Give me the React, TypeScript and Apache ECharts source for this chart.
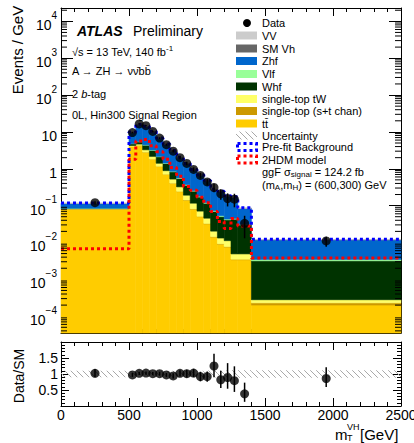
import React, { useEffect, useRef } from 'react';
import * as echarts from 'echarts';

const FONT = "'Liberation Sans', Arial, Helvetica, sans-serif";

// Bin edges of m_T^VH (GeV)
const binEdges = [0, 500, 550, 600, 650, 700, 750, 800, 850, 900, 950, 1000, 1050, 1100, 1150, 1200, 1250, 1300, 1400, 2500];

// Background components, Events / GeV (stack order bottom -> top)
const ttbar = [0.080, 4.0, 4.3, 2.8, 1.8, 1.15, 0.70, 0.40, 0.24, 0.14, 0.080, 0.050, 0.032, 0.014, 0.009, 0.0075, 0.0034, 0.0034, 0.0002];
const stopST = [0.0005, 0.02, 0.03, 0.02, 0.015, 0.01, 0.008, 0.005, 0.003, 0.002, 0.0015, 0.001, 0.0006, 0.0003, 0.0002, 0.0002, 0.0001, 0.0001, 0.00003];
const stopWt = [0.002, 0.25, 0.35, 0.45, 0.35, 0.25, 0.18, 0.12, 0.08, 0.05, 0.035, 0.02, 0.013, 0.006, 0.004, 0.0035, 0.0014, 0.0014, 0.00005];
const whf = [0.0015, 0.5, 0.7, 1.1, 1.0, 0.7, 0.5, 0.3, 0.22, 0.165, 0.13, 0.10, 0.07, 0.049, 0.037, 0.030, 0.038, 0.025, 0.0029];
const vlf = [0.0005, 0.05, 0.08, 0.08, 0.07, 0.05, 0.04, 0.03, 0.02, 0.015, 0.01, 0.008, 0.005, 0.003, 0.003, 0.002, 0.002, 0.001, 0.0003];
const zhf = [0.030, 4.85, 9.9, 9.4, 6.8, 4.5, 3.1, 2.2, 1.4, 0.99, 0.67, 0.49, 0.345, 0.195, 0.185, 0.135, 0.12, 0.053, 0.0084];
const smvh = [0.0003, 0.06, 0.09, 0.08, 0.06, 0.04, 0.03, 0.02, 0.012, 0.009, 0.006, 0.0045, 0.003, 0.002, 0.0015, 0.0012, 0.0012, 0.0006, 0.00006];
const vv = [0.0002, 0.04, 0.06, 0.06, 0.04, 0.03, 0.02, 0.01, 0.008, 0.006, 0.004, 0.0025, 0.002, 0.001, 0.0005, 0.0008, 0.0008, 0.0004, 0.00004];

// Overlays
const prefitBkg = [0.118, 10.0, 15.8, 14.2, 10.4, 6.8, 4.7, 3.15, 2.05, 1.4, 0.96, 0.69, 0.48, 0.28, 0.245, 0.185, 0.175, 0.087, 0.0122];
const model2HDM = [0.0068, 1.8, 5.7, 6.2, 4.2, 2.9, 1.8, 1.08, 0.63, 0.33, 0.26, 0.17, 0.12, 0.069, 0.037, 0.024, 0.045, 0.028, 0.0038];

// Data
const dataX = [250, 525, 575, 625, 675, 725, 775, 825, 875, 925, 975, 1025, 1075, 1125, 1175, 1225, 1275, 1350, 1950];
const dataY = [0.12, 9.6, 16.5, 14.8, 10.3, 6.8, 4.5, 3.0, 2.0, 1.4, 0.96, 0.66, 0.44, 0.31, 0.21, 0.155, 0.15, 0.033, 0.011];
const dataErr = [0.012, 0.45, 0.6, 0.55, 0.45, 0.37, 0.3, 0.25, 0.2, 0.16, 0.13, 0.11, 0.09, 0.08, 0.065, 0.06, 0.06, 0.02, 0.0033];

// Ratio panel
const ratioY = [1.02, 0.97, 1.02, 1.03, 1.01, 1.01, 0.97, 0.94, 1.02, 1.01, 1.03, 0.92, 0.92, 1.25, 0.82, 0.89, 0.79, 0.38, 0.86];
const ratioErrUp = [0.14, 0.06, 0.05, 0.05, 0.05, 0.06, 0.06, 0.08, 0.1, 0.12, 0.13, 0.15, 0.16, 0.38, 0.28, 0.45, 0.45, 0.35, 0.35];
const ratioErrDown = [0.12, 0.06, 0.05, 0.05, 0.05, 0.06, 0.06, 0.08, 0.1, 0.12, 0.13, 0.15, 0.16, 0.35, 0.26, 0.35, 0.35, 0.25, 0.27];
const ratioUnc = [0.1, 0.09, 0.09, 0.09, 0.09, 0.09, 0.09, 0.1, 0.1, 0.1, 0.1, 0.1, 0.11, 0.11, 0.11, 0.11, 0.12, 0.12, 0.12];

// Axis tick labels
const xTickLabels = ['0', '500', '1000', '1500', '2000', '2500'];
const ratioTickLabels = ['0.5', '1', '1.5'];

const Y_MIN = 3.5e-5;
const Y_MAX = 2.3e4;

const stackDefs = [
  { name: 'ttbar', values: ttbar, color: '#ffcc00' },
  { name: 'stopST', values: stopST, color: '#cc9900' },
  { name: 'stopWt', values: stopWt, color: '#ffff66' },
  { name: 'Whf', values: whf, color: '#003300' },
  { name: 'Vlf', values: vlf, color: '#99ff99' },
  { name: 'Zhf', values: zhf, color: '#0066cc' },
  { name: 'SMVh', values: smvh, color: '#666666' },
  { name: 'VV', values: vv, color: '#cccccc' },
];

function makeHatch(): HTMLCanvasElement {
  const c = document.createElement('canvas');
  c.width = 6;
  c.height = 6;
  const ctx = c.getContext('2d')!;
  ctx.strokeStyle = '#a8a8a8';
  ctx.lineWidth = 1;
  ctx.beginPath();
  ctx.moveTo(0, 0); ctx.lineTo(6, 6);
  ctx.moveTo(-3, 3); ctx.lineTo(3, 9);
  ctx.moveTo(3, -3); ctx.lineTo(9, 3);
  ctx.stroke();
  return c;
}

function rectRender(fill: any, stroke?: string) {
  return (params: any, api: any) => {
    const x0 = api.value(0), x1 = api.value(1), y0 = api.value(2), y1 = api.value(3);
    const p0 = api.coord([x0, y1]);
    const p1 = api.coord([x1, y0]);
    const cs = params.coordSys;
    const rect = echarts.graphic.clipRectByRect(
      { x: p0[0], y: p0[1], width: p1[0] - p0[0], height: p1[1] - p0[1] },
      { x: cs.x, y: cs.y, width: cs.width, height: cs.height }
    );
    if (!rect) return null;
    return {
      type: 'rect',
      shape: rect,
      style: stroke ? { fill, stroke, lineWidth: 0.6 } : { fill },
    };
  };
}

function errRender(params: any, api: any) {
  const x = api.value(0);
  const p0 = api.coord([x, api.value(1)]);
  const p1 = api.coord([x, api.value(2)]);
  return {
    type: 'line',
    shape: { x1: p0[0], y1: p0[1], x2: p1[0], y2: p1[1] },
    style: { stroke: '#000', lineWidth: 1.5 },
  };
}

export default function App() {
  const ref = useRef<HTMLDivElement>(null);

  useEffect(() => {
    if (!ref.current) return;
    const chart = echarts.init(ref.current, undefined, { renderer: 'svg' });
    const hatch = makeHatch();
    const hatchFill = { image: hatch, repeat: 'repeat', imageWidth: 6, imageHeight: 6 };

    // stacked histogram series
    let base = ttbar.map(() => 0);
    const stackSeries = stackDefs.map((def) => {
      const data = def.values.map((v, i) => {
        const lo = base[i];
        return [binEdges[i], binEdges[i + 1], lo > 0 ? lo : Y_MIN, lo + v];
      });
      base = base.map((b, i) => b + def.values[i]);
      return {
        type: 'custom',
        name: def.name,
        xAxisIndex: 0,
        yAxisIndex: 0,
        silent: true,
        z: 2,
        encode: { x: [0, 1], y: [2, 3] },
        data,
        renderItem: rectRender(def.color, def.color),
      };
    });

    const stepData = (vals: number[]) => binEdges.map((e, i) => [e, vals[Math.min(i, vals.length - 1)]]);

    // log minor ticks
    const minorVals: number[] = [];
    for (let d = -6; d <= 5; d++) {
      for (let k = 2; k <= 9; k++) {
        const v = k * Math.pow(10, d);
        if (v > Y_MIN && v < Y_MAX) minorVals.push(v);
      }
    }

    const axisLine = { show: true, onZero: false, lineStyle: { color: '#000', width: 1 } };
    const tickStyle = { color: '#000', width: 1 };

    const xAxisBase = (grid: number, pos: string, showLabel: boolean) => ({
      gridIndex: grid,
      type: 'value',
      min: 0,
      max: 2500,
      interval: 500,
      position: pos,
      axisLine,
      axisTick: { show: true, inside: true, length: 8, lineStyle: tickStyle },
      minorTick: { show: true, splitNumber: 5, length: 4, lineStyle: tickStyle },
      splitLine: { show: false },
      minorSplitLine: { show: false },
      axisLabel: showLabel
        ? {
            show: true,
            margin: 2,
            fontSize: 14,
            fontFamily: FONT,
            color: '#000',
            showMinLabel: true,
            showMaxLabel: true,
            formatter: (v: number) => xTickLabels[Math.round(v / 500)] ?? '',
          }
        : { show: false },
    });

    const logAxis = (pos: string, showLabel: boolean) => ({
      gridIndex: 0,
      type: 'log',
      logBase: 10,
      min: Y_MIN,
      max: Y_MAX,
      splitNumber: 10,
      position: pos,
      axisLine,
      axisTick: { show: true, inside: true, length: 12, lineStyle: tickStyle },
      splitLine: { show: false },
      axisLabel: showLabel
        ? {
            show: true,
            margin: 4,
            formatter: (v: number) => {
              const e = Math.log10(v);
              const r = Math.round(e);
              if (Math.abs(e - r) > 1e-6) return '';
              if (r === 0) return '{b|1}';
              if (r === 1) return '{b|10}';
              const exp = r < 0 ? '\u2212' + -r : String(r);
              return '{b|10}{s|' + exp + '}';
            },
            rich: {
              b: { fontSize: 14, fontFamily: FONT, color: '#000', lineHeight: 22, verticalAlign: 'bottom' },
              s: { fontSize: 10, fontFamily: FONT, color: '#000', lineHeight: 12, verticalAlign: 'top' },
            },
          }
        : { show: false },
    });

    const ratioAxis = (pos: string, showLabel: boolean) => ({
      gridIndex: 1,
      type: 'value',
      min: 0,
      max: 2,
      interval: 0.5,
      position: pos,
      axisLine,
      axisTick: { show: true, inside: true, length: 8, lineStyle: tickStyle },
      minorTick: { show: true, splitNumber: 5, length: 4, lineStyle: tickStyle },
      splitLine: { show: false },
      minorSplitLine: { show: false },
      axisLabel: showLabel
        ? {
            show: true,
            margin: 3,
            fontSize: 14,
            fontFamily: FONT,
            color: '#000',
            formatter: (v: number) => {
              const s = String(v);
              return ratioTickLabels.indexOf(s) >= 0 ? s : '';
            },
          }
        : { show: false },
    });

    // ---------- graphic (texts + legend) ----------
    const txt = (x: number, y: number, text: string, extra: any = {}) => ({
      type: 'text',
      x,
      y,
      silent: true,
      style: {
        text,
        fontSize: 11,
        fontFamily: FONT,
        fill: '#000',
        align: 'left',
        textAlign: 'left',
        verticalAlign: 'middle',
        textVerticalAlign: 'middle',
        ...extra,
      },
    });

    const richN = { fontSize: 11, fontFamily: FONT, fill: '#000', color: '#000', lineHeight: 13 };
    const supRich = {
      n: { ...richN, verticalAlign: 'bottom' },
      s: { fontSize: 8, fontFamily: FONT, fill: '#000', color: '#000', lineHeight: 9, padding: [0, 0, 6, 0], verticalAlign: 'top' },
      i: { ...richN, fontStyle: 'italic', verticalAlign: 'bottom' },
    };
    const subRich = {
      n: { ...richN, lineHeight: 12, verticalAlign: 'top' },
      u: { fontSize: 8, fontFamily: FONT, fill: '#000', color: '#000', lineHeight: 8, padding: [5, 0, 0, 0], verticalAlign: 'bottom' },
    };

    const graphics: any[] = [];
    // Axis titles
    graphics.push({
      type: 'text', x: 17, y: 50, rotation: Math.PI / 2, silent: true,
      style: { text: 'Events / GeV', fontSize: 15, fontFamily: FONT, fill: '#000', align: 'center', textAlign: 'center', verticalAlign: 'middle', textVerticalAlign: 'middle' },
    });
    graphics.push({
      type: 'text', x: 19, y: 376, rotation: Math.PI / 2, silent: true,
      style: { text: 'Data/SM', fontSize: 14, fontFamily: FONT, fill: '#000', align: 'center', textAlign: 'center', verticalAlign: 'middle', textVerticalAlign: 'middle' },
    });
    graphics.push(txt(335, 434, 'm', { fontSize: 15 }));
    graphics.push(txt(347, 427, 'VH', { fontSize: 9 }));
    graphics.push(txt(347, 438, 'T', { fontSize: 9 }));
    graphics.push(txt(360, 434, '[GeV]', { fontSize: 15 }));

    // ATLAS label block
    graphics.push(txt(77, 31, 'ATLAS', { fontSize: 14, fontWeight: 'bold', fontStyle: 'italic' }));
    graphics.push(txt(133, 31, 'Preliminary', { fontSize: 14 }));
    graphics.push(txt(72, 51, '{n|\u221as = 13 TeV, 140 fb}{s|-1}', { rich: supRich }));
    graphics.push(txt(72, 71, 'A \u2192 ZH \u2192 \u03bd\u03bd\u0304bb\u0304'));
    graphics.push(txt(72, 93, '{n|2 }{i|b}{n|-tag}', { rich: supRich }));
    graphics.push(txt(72, 115, '0L, Hin300 Signal Region'));

    // Legend
    const legendRows = [
      { label: 'Data', kind: 'data' },
      { label: 'VV', kind: 'fill', color: '#cccccc' },
      { label: 'SM Vh', kind: 'fill', color: '#666666' },
      { label: 'Zhf', kind: 'fill', color: '#0066cc' },
      { label: 'Vlf', kind: 'fill', color: '#99ff99' },
      { label: 'Whf', kind: 'fill', color: '#003300' },
      { label: 'single-top tW', kind: 'fill', color: '#ffff66' },
      { label: 'single-top (s+t chan)', kind: 'fill', color: '#cc9900' },
      { label: 'tt\u0304', kind: 'fill', color: '#ffcc00' },
      { label: 'Uncertainty', kind: 'hatch' },
      { label: 'Pre-fit Background', kind: 'dotted', color: '#0000ff' },
      { label: '2HDM model', kind: 'dotted', color: '#ff0000' },
    ];
    const rowY = [23, 35.5, 48.5, 61, 74, 86.5, 99, 111, 123.5, 135.5, 147, 159.5];
    legendRows.forEach((row: any, i) => {
      const y = rowY[i];
      if (row.kind === 'data') {
        graphics.push({ type: 'circle', silent: true, shape: { cx: 247, cy: y, r: 4 }, style: { fill: '#000' } });
      } else if (row.kind === 'fill') {
        graphics.push({ type: 'rect', silent: true, shape: { x: 236, y: y - 4, width: 21, height: 8 }, style: { fill: row.color } });
      } else if (row.kind === 'hatch') {
        graphics.push({ type: 'rect', silent: true, shape: { x: 236, y: y - 4, width: 21, height: 8 }, style: { fill: hatchFill } });
      } else {
        graphics.push({
          type: 'rect', silent: true,
          shape: { x: 237.5, y: y - 3.5, width: 19, height: 7 },
          style: { fill: 'none', stroke: row.color, lineWidth: 3, lineDash: [3, 3] },
        });
      }
      graphics.push(txt(262, y, row.label));
    });
    graphics.push(txt(262, 172, '{n|ggF \u03c3}{u|signal}{n| = 124.2 fb}', { rich: subRich }));
    graphics.push(txt(262, 185, '{n|(m}{u|A}{n|,m}{u|H}{n|) = (600,300) GeV}', { rich: subRich }));

    const option: any = {
      animation: false,
      backgroundColor: '#fff',
      grid: [
        { left: 61, right: 13, top: 8, height: 325, containLabel: false, outerBoundsMode: 'none' },
        { left: 61, right: 13, top: 342, height: 64, containLabel: false, outerBoundsMode: 'none' },
      ],
      xAxis: [
        xAxisBase(0, 'bottom', false),
        xAxisBase(0, 'top', false),
        xAxisBase(1, 'bottom', true),
        xAxisBase(1, 'top', false),
      ],
      yAxis: [logAxis('left', true), logAxis('right', false), ratioAxis('left', true), ratioAxis('right', false)],
      graphic: { elements: graphics },
      series: [
        ...stackSeries,
        {
          type: 'line', name: 'Pre-fit Background', xAxisIndex: 0, yAxisIndex: 0, silent: true, z: 4,
          step: 'end', symbol: 'none', data: stepData(prefitBkg),
          lineStyle: { color: '#0000ff', width: 3, type: 'dotted' },
        },
        {
          type: 'line', name: '2HDM model', xAxisIndex: 0, yAxisIndex: 0, silent: true, z: 5,
          step: 'end', symbol: 'none', data: stepData(model2HDM),
          lineStyle: { color: '#ff0000', width: 3, type: 'dotted' },
        },
        {
          type: 'custom', name: 'data err', xAxisIndex: 0, yAxisIndex: 0, silent: true, z: 6,
          encode: { x: 0, y: [1, 2] },
          data: dataX.map((x, i) => [x, dataY[i] - dataErr[i], dataY[i] + dataErr[i]]),
          renderItem: errRender,
        },
        {
          type: 'scatter', name: 'Data', xAxisIndex: 0, yAxisIndex: 0, silent: true, z: 7,
          symbol: 'circle', symbolSize: 9, itemStyle: { color: '#000' },
          data: dataX.map((x, i) => [x, dataY[i]]),
        },
        {
          type: 'custom', name: 'log minor ticks', xAxisIndex: 0, yAxisIndex: 0, silent: true, z: 8,
          encode: { x: 0, y: 1 },
          data: minorVals.map((v) => [0, v]),
          renderItem: (params: any, api: any) => {
            const y = api.coord([0, api.value(1)])[1];
            const cs = params.coordSys;
            return {
              type: 'group',
              children: [
                { type: 'line', shape: { x1: cs.x, y1: y, x2: cs.x + 6, y2: y }, style: { stroke: '#000', lineWidth: 1 } },
                { type: 'line', shape: { x1: cs.x + cs.width, y1: y, x2: cs.x + cs.width - 6, y2: y }, style: { stroke: '#000', lineWidth: 1 } },
              ],
            };
          },
        },
        // ratio panel
        {
          type: 'custom', name: 'ratio unc', xAxisIndex: 2, yAxisIndex: 2, silent: true, z: 2,
          encode: { x: [0, 1], y: [2, 3] },
          data: ratioUnc.map((u, i) => [binEdges[i], binEdges[i + 1], 1 - u, 1 + u]),
          renderItem: rectRender(hatchFill),
        },
        {
          type: 'custom', name: 'ratio err', xAxisIndex: 2, yAxisIndex: 2, silent: true, z: 6,
          encode: { x: 0, y: [1, 2] },
          data: dataX.map((x, i) => [x, ratioY[i] - ratioErrDown[i], ratioY[i] + ratioErrUp[i]]),
          renderItem: errRender,
        },
        {
          type: 'scatter', name: 'Data/SM', xAxisIndex: 2, yAxisIndex: 2, silent: true, z: 7,
          symbol: 'circle', symbolSize: 9, itemStyle: { color: '#000' },
          data: dataX.map((x, i) => [x, ratioY[i]]),
        },
      ],
    };

    chart.setOption(option);
    return () => chart.dispose();
  }, []);

  return (
    <div
      ref={ref}
      style={{ position: 'absolute', left: 0, top: 0, width: 414, height: 443, background: '#fff' }}
    />
  );
}
